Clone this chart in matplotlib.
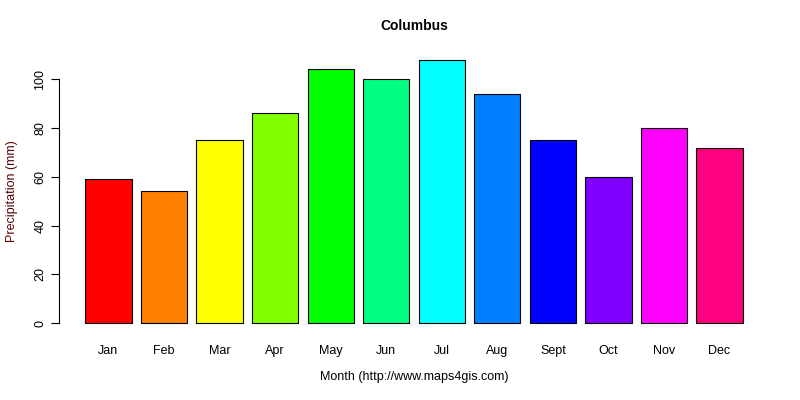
import matplotlib
matplotlib.use("Agg")
import matplotlib.pyplot as plt

months = ["Jan","Feb","Mar","Apr","May","Jun","Jul","Aug","Sept","Oct","Nov","Dec"]
precip = [59, 54, 75, 86, 104, 100, 108, 94, 75, 60, 80, 72]
colors = ["#FF0000","#FF8000","#FFFF00","#80FF00","#00FF00","#00FF80",
          "#00FFFF","#0080FF","#0000FF","#8000FF","#FF00FF","#FF0080"]
yticks = [0, 20, 40, 60, 80, 100]

plt.rcParams["font.family"] = "Liberation Sans"
fig = plt.figure(figsize=(8, 4), dpi=100)
ax = fig.add_axes([0.07375, 0.166, 0.8875, 0.711])
xs = [0.7 + 1.2 * i for i in range(len(months))]
ax.bar(xs, precip, width=1.0, color=colors, edgecolor="black", linewidth=0.8)
ax.set_xlim(-0.368, 14.968)
ax.set_ylim(-4.32, 112.32)
for s in ["top", "right", "bottom"]:
    ax.spines[s].set_visible(False)
ax.spines["left"].set_bounds(0, 100)
ax.spines["left"].set_linewidth(0.8)
ax.set_yticks(yticks)
ax.set_yticklabels([str(v) for v in yticks], rotation=90, va="center", fontsize=9)
ax.tick_params(axis="y", length=6, width=0.8, pad=3)
ax.set_xticks(xs)
ax.set_xticklabels(months, fontsize=9)
ax.tick_params(axis="x", length=0, pad=8)
ax.set_xlabel("Month (http://www.maps4gis.com)", fontsize=9, labelpad=10)
ax.set_ylabel("Precipitation (mm)", fontsize=9, color="#5a0000", labelpad=12)
ax.set_title("Columbus", fontsize=10, fontweight="bold", pad=14)
fig.savefig("out.png", dpi=100)
